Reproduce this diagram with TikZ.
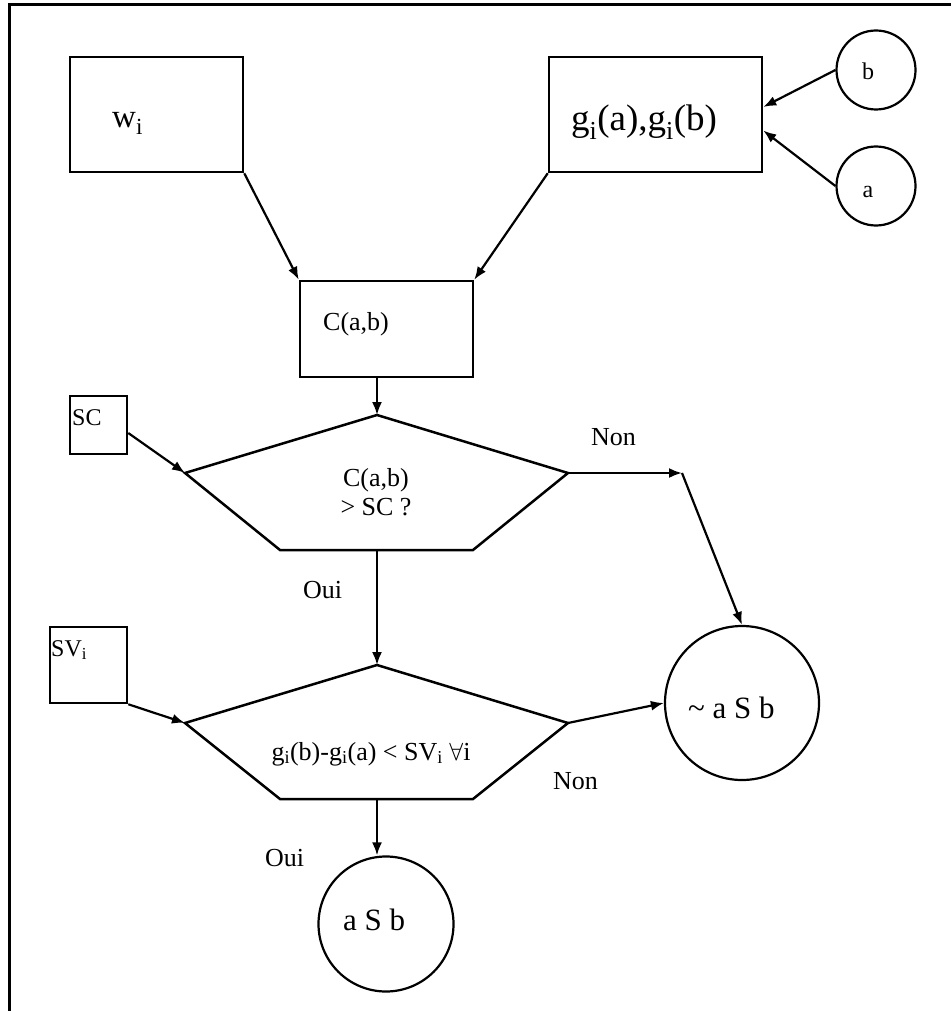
\documentclass[tikz,border=0pt]{standalone}
\usepackage{fontspec}
\setmainfont{Liberation Serif}
\usetikzlibrary{arrows.meta, positioning, calc}
\newcommand{\idx}{\textsubscript{i}}

\begin{document}
\begin{tikzpicture}[
    x=1pt, y=-1pt,
    box/.style={draw, line width=2.5pt, inner sep=0pt},
    disc/.style={draw, circle, line width=2.2pt, inner sep=0pt},
    dec/.style={draw, line width=2.5pt, line join=miter},
    arr/.style={-{Latex[length=13pt, width=10pt]}, line width=2.2pt},
    txt/.style={font=\fontsize{26}{30}\selectfont, inner sep=0pt},
    bigtxt/.style={font=\fontsize{37}{40}\selectfont, inner sep=0pt},
    midtxt/.style={font=\fontsize{31}{34}\selectfont, inner sep=0pt},
    smalltxt/.style={font=\fontsize{24}{28}\selectfont, inner sep=0pt}
]
    \useasboundingbox (0,0) rectangle (951,1011);
    \draw[line width=3pt] (9,1011) -- (9,5) -- (951,5);

    % inputs
    \node[box, minimum width=173, minimum height=115] (wbox) at (156.5,114.5) {};
    \node[bigtxt, font=\fontsize{33}{36}\selectfont, anchor=base west] (wtxt) at (112,128) {w\idx};
    \node[box, minimum width=213, minimum height=115] (gbox) at (655.5,114.5) {};
    \node[bigtxt, anchor=base west] (gtxt) at (571,131) {g\idx(a),g\idx(b)};
    \node[disc, minimum size=79] (circb) at (876,70) {};
    \node[smalltxt, anchor=base] at (868,80) {b};
    \node[disc, minimum size=79] (circa) at (876,186) {};
    \node[smalltxt, anchor=base] at (868,197) {a};

    % concordance
    \node[box, minimum width=173, minimum height=96] (cbox) at (386.5,329) {};
    \node[txt, anchor=base west] (ctxt) at (323,330) {C(a,b)};

    % seuils
    \node[box, minimum width=57, minimum height=58] (scbox) at (98.5,425) {};
    \node[smalltxt, anchor=base west] at (72,425) {SC};
    \node[box, minimum width=77, minimum height=76] (svbox) at (88.5,665) {};
    \node[smalltxt, anchor=base west] at (51,656) {SV\idx};

    % tests
    \coordinate (q1top) at (377,415);
    \coordinate (q1left) at (185,473);
    \coordinate (q1right) at (568,473);
    \coordinate (q1bot) at (377,550);
    \draw[dec] (q1top) -- (q1right) -- (473,550) -- (280,550) -- (q1left) -- cycle;
    \node[txt, anchor=base] (q1txt) at (376,486) {C(a,b)};
    \node[txt, anchor=base] at (376,515) {> SC ?};

    \coordinate (q2top) at (377,665);
    \coordinate (q2left) at (185,723);
    \coordinate (q2right) at (568,723);
    \coordinate (q2bot) at (377,799);
    \draw[dec] (q2top) -- (q2right) -- (473,799) -- (280,799) -- (q2left) -- cycle;
    \node[txt, anchor=base] (q2txt) at (371,760) {g\idx(b)-g\idx(a) < SV\idx{} $\forall$i};

    % conclusions
    \node[disc, minimum size=154] (notsb) at (742,703) {};
    \node[midtxt, anchor=base west] at (688,718) {\textasciitilde{} a S b};
    \node[disc, minimum size=135] (asb) at (386,924) {};
    \node[midtxt, anchor=base west] at (343,930) {a S b};
    \coordinate (bend) at (682,473);

    % Arrows
    \draw[arr] (wbox.south east) -- (cbox.north west);
    \draw[arr] (gbox.south west) -- (cbox.north east);
    \draw[arr] (circb.west) -- ([yshift=7.5pt]gbox.east);
    \draw[arr] (circa.west) -- ([yshift=-16pt]gbox.east);
    \draw[arr] (cbox.south -| q1top) -- (q1top);
    \draw[arr] ([yshift=-8pt]scbox.east) -- (q1left);
    \draw[arr] (q1right) -- (bend);
    \draw[arr] (bend) -- (notsb.north);
    \draw[arr] (q1bot) -- (q2top);
    \draw[arr] (svbox.south east) -- (q2left);
    \draw[arr] (q2right) -- (notsb.west);
    \draw[arr] (q2bot) -- (q2bot |- asb.north);

    % Labels
    \node[txt, anchor=base west] at (591,445) {Non};
    \node[txt, anchor=base west] at (303,598) {Oui};
    \node[txt, anchor=base west] at (553,789) {Non};
    \node[txt, anchor=base west] at (265,866) {Oui};
\end{tikzpicture}
\end{document}
